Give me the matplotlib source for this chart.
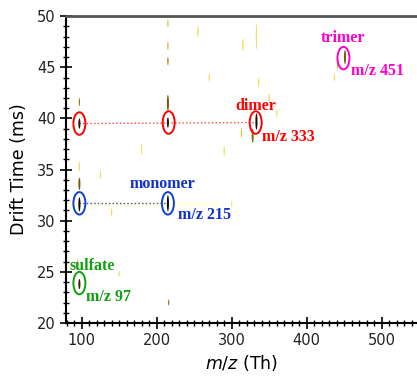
import matplotlib
matplotlib.use("Agg")
import matplotlib.pyplot as plt
import numpy as np
from matplotlib.colors import LinearSegmentedColormap
from matplotlib.patches import Ellipse
from matplotlib.ticker import MultipleLocator

# spots: m/z, drift time (ms), half-width in drift time, intensity (0..1)
spot_mz = [97, 97, 97, 97, 97, 97, 95,
           215, 215, 215, 215, 215, 215, 216,
           333, 328, 313, 336, 350,
           451, 441, 437,
           255, 315, 333, 270, 360, 290, 140, 125, 180, 150, 300]
spot_dt = [39.5, 41.6, 31.6, 33.6, 23.8, 35.3, 26.0,
           39.6, 41.5, 45.6, 47.1, 49.3, 31.7, 22.0,
           39.7, 38.3, 38.6, 43.5, 42.0,
           46.0, 45.5, 44.0,
           48.5, 47.2, 48.0, 44.0, 40.5, 36.8, 30.8, 34.5, 37.0, 24.8, 31.6]
spot_hw = [0.5, 0.4, 0.7, 0.6, 0.5, 0.5, 0.3,
           0.5, 0.8, 0.4, 0.4, 0.4, 0.8, 0.3,
           0.8, 0.7, 0.5, 0.5, 0.4,
           0.7, 0.7, 0.4,
           0.5, 0.6, 1.3, 0.4, 0.4, 0.5, 0.4, 0.4, 0.6, 0.3, 0.3]
spot_int = [0.85, 0.5, 0.95, 0.6, 0.75, 0.2, 0.25,
            0.85, 0.6, 0.5, 0.35, 0.3, 1.0, 0.5,
            0.95, 0.55, 0.3, 0.2, 0.2,
            0.6, 0.35, 0.2,
            0.25, 0.25, 0.2, 0.2, 0.2, 0.2, 0.2, 0.2, 0.15, 0.2, 0.15]

# horizontal monomer smear
smear_mz = [80, 100, 130, 160, 190, 230, 250, 280]
smear_dt = [31.6, 31.6, 31.6, 31.6, 31.6, 31.6, 31.6, 31.6]

# annotations
circ_mz = [97, 216, 332, 97, 215, 97, 449]
circ_dt = [39.5, 39.6, 39.6, 31.7, 31.7, 23.9, 45.9]
circ_col = ['#ff0000', '#ff0000', '#ff0000', '#1040d0', '#1040d0', '#10a010', '#ff00cc']

name_txt = ['dimer', 'monomer', 'sulfate', 'trimer']
name_mz = [332, 208, 114, 448]
name_dt = [41.2, 33.6, 25.6, 47.9]
mz_txt = ['m/z 333', 'm/z 215', 'm/z 97', 'm/z 451']
mz_mz = [375, 264, 136, 495]
mz_dt = [38.2, 30.6, 22.5, 44.6]
lab_col = ['#ff0000', '#1030d0', '#10a010', '#ff00cc']

cmap = LinearSegmentedColormap.from_list(
    'spot', ['#ffff9a', '#e8d850', '#a08010', '#3a2000', '#100500'])

fig = plt.figure(figsize=(4.17, 3.76), dpi=100)
ax = fig.add_axes([0.158, 0.141, 0.842, 0.816])
ax.set_xlim(79, 547)
ax.set_ylim(20, 50)

# smear
ax.plot(smear_mz, smear_dt, color='#ffffa0', lw=2.5, alpha=0.35, solid_capstyle='round', zorder=1)

for m, d, h, i in zip(spot_mz, spot_dt, spot_hw, spot_int):
    ax.add_patch(Ellipse((m, d), width=2.8 if i > 0.5 else 1.8, height=2 * h,
                         facecolor=cmap(i), edgecolor='none', zorder=2))

# dotted connecting lines
ax.plot([circ_mz[0], circ_mz[2]], [circ_dt[0], circ_dt[2]], ls=':', color='#ff4040', lw=1, zorder=1.5)
ax.plot([circ_mz[3], circ_mz[4]], [circ_dt[3], circ_dt[4]], ls=':', color='#3050e0', lw=1, zorder=1.5)

for m, d, c in zip(circ_mz, circ_dt, circ_col):
    ax.add_patch(Ellipse((m, d), width=16, height=2.2, facecolor='none', edgecolor=c, lw=1.4, zorder=3))

for t, m, d, c in zip(name_txt, name_mz, name_dt, lab_col):
    ax.text(m, d, t, color=c, fontsize=11.5, fontweight='bold', family='Liberation Serif',
            ha='center', va='center')
for t, m, d, c in zip(mz_txt, mz_mz, mz_dt, lab_col):
    ax.text(m, d, t, color=c, fontsize=11.5, fontweight='bold', family='Liberation Serif',
            ha='center', va='center')

ax.xaxis.set_major_locator(MultipleLocator(100))
ax.xaxis.set_minor_locator(MultipleLocator(10))
ax.yaxis.set_major_locator(MultipleLocator(5))
ax.yaxis.set_minor_locator(MultipleLocator(1))
ax.tick_params(which='major', direction='inout', length=8, width=1.2, labelsize=10.5, colors='black')
ax.tick_params(which='minor', direction='inout', length=5, width=1.0)
ax.tick_params(axis='both', labelcolor='#222222')

for s in ['left', 'bottom']:
    ax.spines[s].set_linewidth(1.5)
    ax.spines[s].set_color('black')
ax.spines['right'].set_visible(False)
ax.spines['top'].set_color('#555555')
ax.spines['top'].set_linewidth(2)

ax.set_ylabel('Drift Time (ms)', fontsize=12.5, labelpad=6)
ax.set_xlabel('$m/z$ (Th)', fontsize=12.5, labelpad=3)

fig.savefig('out.png', dpi=100)
